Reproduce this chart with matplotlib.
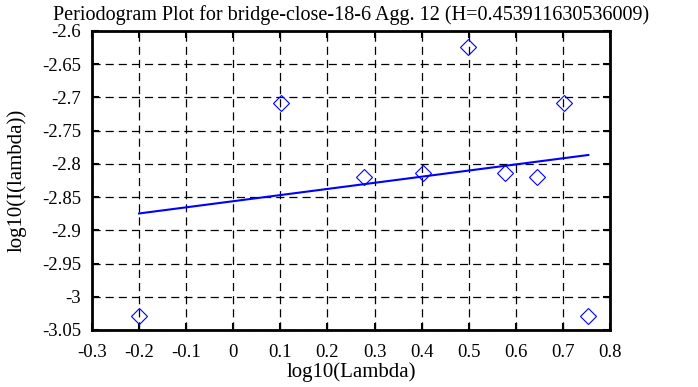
import matplotlib
matplotlib.use("Agg")
import matplotlib.pyplot as plt
import numpy as np

plt.rcParams['font.family'] = ['Liberation Serif', 'DejaVu Serif']

log_lambda = [-0.2, 0.101, 0.277, 0.402, 0.499, 0.578, 0.645, 0.703, 0.754]
log_I = [-3.029, -2.708, -2.819, -2.813, -2.624, -2.813, -2.819, -2.708, -3.029]
fit_x = [-0.2, 0.754]
fit_y = [-2.8746, -2.7866]

xticks = [-0.3, -0.2, -0.1, 0, 0.1, 0.2, 0.3, 0.4, 0.5, 0.6, 0.7, 0.8]
xticklabels = ['-0.3', '-0.2', '-0.1', '0', '0.1', '0.2', '0.3', '0.4', '0.5', '0.6', '0.7', '0.8']
yticks = [-3.05, -3.0, -2.95, -2.9, -2.85, -2.8, -2.75, -2.7, -2.65, -2.6]
yticklabels = ['-3.05', '-3', '-2.95', '-2.9', '-2.85', '-2.8', '-2.75', '-2.7', '-2.65', '-2.6']

fig = plt.figure(figsize=(6.98, 3.87), dpi=100)
ax = fig.add_axes([92/698, 1-330/387, (610-92)/698, (330-31)/387])

ax.plot(fit_x, fit_y, color='#0000ff', lw=1.5, zorder=3)
ax.plot(log_lambda, log_I, linestyle='none', marker='D', markersize=8,
        markerfacecolor='none', markeredgecolor='#0000ff', markeredgewidth=0.8, zorder=4)

ax.set_xlim(-0.3, 0.8)
ax.set_ylim(-3.05, -2.6)
ax.set_xticks(xticks)
ax.set_xticklabels(xticklabels)
ax.set_yticks(yticks)
ax.set_yticklabels(yticklabels)
ax.grid(True, color='black', linestyle=(0, (6.5, 4)), lw=0.9)
ax.tick_params(direction='in', length=5, width=1.5, top=True, right=True,
               labelsize=13.5)
ax.tick_params(axis='y', pad=8)
ax.tick_params(axis='x', pad=10)
for s in ax.spines.values():
    s.set_linewidth(2)
ax.set_xlabel('log10(Lambda)', fontsize=15, labelpad=1)
ax.set_ylabel('log10(I(lambda))', fontsize=15, labelpad=11)
ax.set_title('Periodogram Plot for bridge-close-18-6 Agg. 12 (H=0.453911630536009)',
             fontsize=14.5, pad=8)

fig.savefig('out.png', dpi=100)
